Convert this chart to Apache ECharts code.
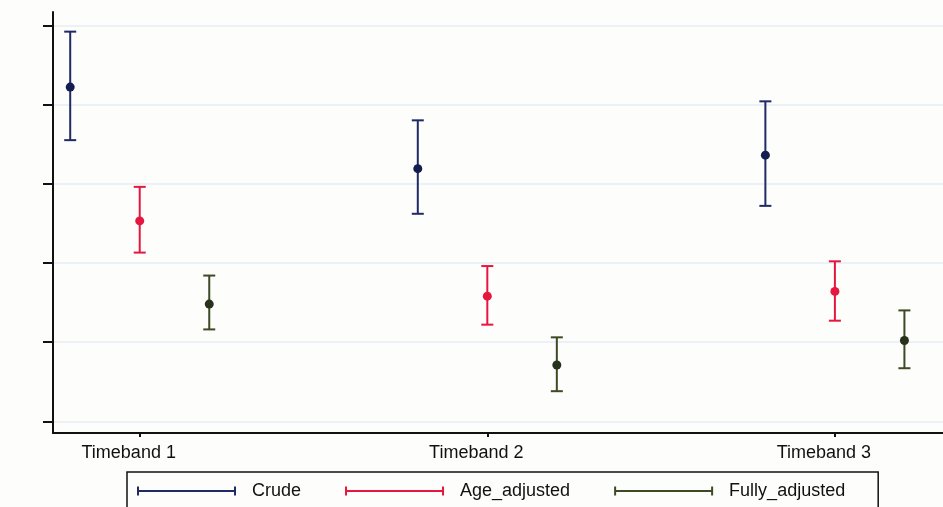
<!DOCTYPE html>
<html>
<head>
<meta charset="utf-8">
<script src="https://cdn.jsdelivr.net/npm/echarts@6/dist/echarts.min.js"></script>
<style>
html,body{margin:0;padding:0;background:#fdfdfb;}
#chart{width:943px;height:507px;}
</style>
</head>
<body>
<div id="chart"></div>
<script>
// ---- data ----
const timebands = ['Timeband 1', 'Timeband 2', 'Timeband 3'];
const seriesNames = ['Crude', 'Age_adjusted', 'Fully_adjusted'];
const yTicks = [0, 1, 2, 3, 4, 5];

const crudeEst   = [4.22, 3.19, 3.36];
const crudeLow   = [3.55, 2.62, 2.72];
const crudeHigh  = [4.92, 3.80, 4.04];

const ageEst     = [2.53, 1.58, 1.64];
const ageLow     = [2.13, 1.22, 1.27];
const ageHigh    = [2.96, 1.96, 2.02];

const fullyEst   = [1.48, 0.71, 1.02];
const fullyLow   = [1.16, 0.38, 0.67];
const fullyHigh  = [1.84, 1.06, 1.40];

// ---- styling ----
const colors = ['#1f2a66', '#e5173f', '#3d4a24'];
const dotColors = ['#141d50', '#e5173f', '#26321a'];
const dodge = [-0.2, 0, 0.2];
const font = '"Liberation Sans", Arial, Helvetica, sans-serif';

function build(est, low, high) {
  return timebands.map((t, i) => [i + 1, low[i], high[i], est[i]]);
}
const seriesData = [
  build(crudeEst, crudeLow, crudeHigh),
  build(ageEst, ageLow, ageHigh),
  build(fullyEst, fullyLow, fullyHigh)
];

function renderItem(params, api) {
  const si = params.seriesIndex;
  const x = api.value(0) + dodge[si];
  const lo = api.coord([x, api.value(1)]);
  const hi = api.coord([x, api.value(2)]);
  const pt = api.coord([x, api.value(3)]);
  const c = colors[si];
  const cap = 6;
  const ls = { stroke: c, lineWidth: 2 };
  return {
    type: 'group',
    children: [
      { type: 'line', shape: { x1: lo[0], y1: lo[1], x2: hi[0], y2: hi[1] }, style: ls },
      { type: 'line', shape: { x1: lo[0] - cap, y1: lo[1], x2: lo[0] + cap, y2: lo[1] }, style: ls },
      { type: 'line', shape: { x1: hi[0] - cap, y1: hi[1], x2: hi[0] + cap, y2: hi[1] }, style: ls },
      { type: 'circle', shape: { cx: pt[0], cy: pt[1], r: 4.5 }, style: { fill: dotColors[si] } }
    ]
  };
}

const chart = echarts.init(document.getElementById('chart'), null, { renderer: 'canvas' });
chart.setOption({
  backgroundColor: '#fdfdfb',
  animation: false,
  grid: { left: 53, right: 0, top: 12, bottom: 74 },
  xAxis: {
    type: 'value',
    min: 0.7505,
    max: 3.311,
    axisLine: { show: true, onZero: false, lineStyle: { color: '#111', width: 2 } },
    axisTick: { show: true, length: 4, lineStyle: { color: '#111', width: 2 }, customValues: [1, 2, 3] },
    axisLabel: {
      customValues: [1, 2, 3],
      formatter: v => timebands[Math.round(v) - 1],
      color: '#111', fontSize: 18, fontFamily: font, margin: 11,
      padding: [0, 22, 0, 0]
    },
    splitLine: { show: false }
  },
  yAxis: {
    type: 'value',
    min: -0.148,
    max: 5.168,
    axisLine: { show: true, onZero: false, lineStyle: { color: '#111', width: 2 } },
    axisTick: { show: true, length: 10, lineStyle: { color: '#111', width: 2 }, customValues: yTicks },
    axisLabel: { show: false, customValues: yTicks },
    splitLine: { show: true, lineStyle: { color: '#e6ecf4', width: 1.5 } }
  },
  legend: {
    data: seriesNames,
    left: 127,
    top: 472,
    orient: 'horizontal',
    icon: 'path://M0,0h2v9h-2z M0,3.5h99v2h-99z M97,0h2v9h-2z',
    itemWidth: 99,
    itemHeight: 9,
    itemGap: 44,
    borderColor: '#111',
    borderWidth: 1.5,
    borderRadius: 0,
    padding: [10, 33, 30, 10],
    textStyle: { fontSize: 18, color: '#111', fontFamily: font, padding: [0, 0, 0, 11] }
  },
  series: seriesNames.map((name, i) => ({
    name: name,
    type: 'custom',
    renderItem: renderItem,
    itemStyle: { color: colors[i] },
    encode: { x: 0, y: [1, 2, 3] },
    data: seriesData[i]
  }))
});
</script>
</body>
</html>
